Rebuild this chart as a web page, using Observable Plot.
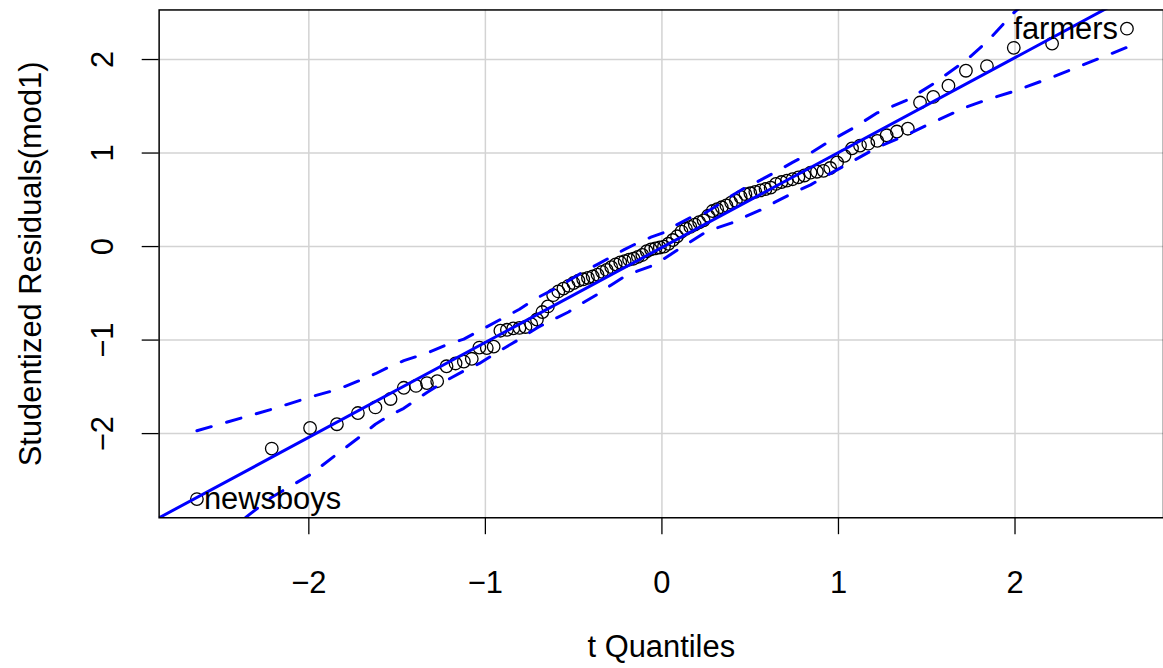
<!DOCTYPE html>
<html><head><meta charset="utf-8">
<script src="https://cdn.jsdelivr.net/npm/d3@7"></script>
<script src="https://cdn.jsdelivr.net/npm/@observablehq/plot@0.6"></script>
<style>
html,body{margin:0;padding:0;overflow:hidden;background:#fff;width:1163px;height:668px}
#chart{width:1163px;height:668px;overflow:hidden}
</style>
</head><body><div id="chart"></div>
<script>
// theoretical t quantiles (x) for the 102 ordered studentized residuals
const tQuantiles = [-2.634,-2.210,-1.993,-1.841,-1.722,-1.623,-1.537,-1.462,-1.393,-1.331,-1.273,-1.220,-1.169,-1.122,-1.077,-1.034,-0.992,-0.953,-0.915,-0.878,-0.842,-0.807,-0.773,-0.740,-0.708,-0.677,-0.646,-0.616,-0.587,-0.558,-0.529,-0.501,-0.473,-0.446,-0.419,-0.392,-0.365,-0.339,-0.313,-0.287,-0.262,-0.236,-0.211,-0.186,-0.161,-0.136,-0.111,-0.086,-0.062,-0.037,-0.012,
 0.012,0.037,0.062,0.086,0.111,0.136,0.161,0.186,0.211,0.236,0.262,0.287,0.313,0.339,0.365,0.392,0.419,0.446,0.473,0.501,0.529,0.558,0.587,0.616,0.646,0.677,0.708,0.740,0.773,0.807,0.842,0.878,0.915,0.953,0.992,1.034,1.077,1.122,1.169,1.220,1.273,1.331,1.393,1.462,1.537,1.623,1.722,1.841,1.993,2.210,2.634];
// studentized residuals (y), sorted
const residuals = [-2.70,-2.16,-1.94,-1.90,-1.78,-1.72,-1.63,-1.51,-1.49,-1.46,-1.44,-1.28,-1.25,-1.23,-1.20,-1.08,-1.085,-1.07,-0.90,-0.89,-0.875,-0.87,-0.86,-0.83,-0.78,-0.70,-0.64,-0.52,-0.48,-0.45,-0.42,-0.39,-0.365,-0.35,-0.335,-0.32,-0.30,-0.27,-0.25,-0.22,-0.19,-0.17,-0.155,-0.14,-0.13,-0.11,-0.09,-0.05,-0.03,-0.02,-0.01,
 0.00,0.03,0.07,0.11,0.16,0.19,0.21,0.235,0.26,0.28,0.33,0.38,0.40,0.42,0.44,0.47,0.49,0.53,0.56,0.57,0.585,0.60,0.615,0.63,0.67,0.69,0.705,0.72,0.74,0.76,0.79,0.80,0.81,0.84,0.90,0.97,1.05,1.08,1.10,1.13,1.19,1.23,1.26,1.54,1.60,1.72,1.88,1.93,2.125,2.17,2.33];
// labelled observations
const labelNames = ["newsboys", "farmers"];
const labelX = [-2.634, 2.634];
const labelY = [-2.70, 2.33];
// simulated confidence envelope
const envX = [-2.634,-2.210,-1.993,-1.841,-1.722,-1.623,-1.537,-1.462,-1.331,-1.220,-1.122,-1.034,-0.915,-0.807,-0.708,-0.616,-0.529,-0.446,-0.365,-0.287,-0.211,-0.136,-0.062,0.012,0.086,0.161,0.236,0.313,0.392,0.473,0.558,0.646,0.740,0.842,0.953,1.077,1.220,1.393,1.537,1.722,1.841,1.993,2.210,2.634];
const envUpper = [-1.97,-1.74,-1.61,-1.53,-1.44,-1.36,-1.28,-1.22,-1.14,-1.05,-0.99,-0.90,-0.78,-0.67,-0.55,-0.46,-0.365,-0.27,-0.19,-0.11,-0.03,0.04,0.10,0.15,0.235,0.31,0.35,0.44,0.54,0.63,0.71,0.80,0.90,1.00,1.13,1.26,1.43,1.57,1.74,1.99,2.19,2.50,2.85,3.30];
const envLower = [-3.30,-2.68,-2.44,-2.22,-2.05,-1.90,-1.80,-1.73,-1.56,-1.43,-1.33,-1.25,-1.11,-0.99,-0.87,-0.78,-0.70,-0.60,-0.51,-0.41,-0.32,-0.26,-0.21,-0.13,-0.04,0.05,0.14,0.20,0.25,0.32,0.39,0.48,0.57,0.66,0.78,0.91,1.06,1.20,1.33,1.49,1.57,1.66,1.81,2.13];
// reference line
const refX = [-2.848, 2.841];
const refY = [-2.90, 2.874];
// ticks
const xTicks = [-2, -1, 0, 1, 2];
const yTicks = [-2, -1, 0, 1, 2];
const xDomain = [-2.848, 2.841];
const yDomain = [-2.90, 2.53];

const points = tQuantiles.map((x, i) => ({x, y: residuals[i]}));
const env = envX.map((x, i) => ({x, upper: envUpper[i], lower: envLower[i]}));
const ref = refX.map((x, i) => ({x, y: refY[i]}));
const labels = labelNames.map((name, i) => ({name, x: labelX[i], y: labelY[i]}));

const blue = "#0000FF";
const fs = 31;
const fmt = d => (d < 0 ? "\u2212" + Math.abs(d) : String(d));

const chart = Plot.plot({
  width: 1168,
  height: 668,
  marginLeft: 159.3,
  marginRight: 0,
  marginTop: 9.5,
  marginBottom: 148.5,
  x: {domain: xDomain},
  y: {domain: yDomain},
  style: {fontFamily: "'Liberation Sans', Arial, sans-serif", fontSize: fs + "px", background: "white", color: "black"},
  marks: [
    Plot.gridX(xTicks, {stroke: "#d3d3d3", strokeOpacity: 1, strokeWidth: 1.5}),
    Plot.gridY(yTicks, {stroke: "#d3d3d3", strokeOpacity: 1, strokeWidth: 1.5}),
    Plot.dot(points, {x: "x", y: "y", r: 6.3, stroke: "black", strokeWidth: 1.3, fill: "none"}),
    Plot.line(env, {x: "x", y: "upper", stroke: blue, strokeWidth: 3, strokeDasharray: "15,16", clip: true}),
    Plot.line(env, {x: "x", y: "lower", stroke: blue, strokeWidth: 3, strokeDasharray: "15,16", clip: true}),
    Plot.line(ref, {x: "x", y: "y", stroke: blue, strokeWidth: 3, clip: true}),
    Plot.text(labels.slice(0, 1), {x: "x", y: "y", text: "name", textAnchor: "start", dx: 7, fontSize: fs}),
    Plot.text(labels.slice(1), {x: "x", y: "y", text: "name", textAnchor: "end", dx: -9, fontSize: fs}),
    Plot.frame({stroke: "black", strokeWidth: 1.5}),
    Plot.axisX(xTicks, {anchor: "bottom", tickSize: 17, tickPadding: 37, tickFormat: fmt, fontSize: fs, strokeWidth: 1.3, label: null}),
    Plot.axisY(yTicks, {anchor: "left", tickSize: 17, tickPadding: 29, tickRotate: -90, tickFormat: fmt, fontSize: fs, strokeWidth: 1.3, label: null}),
    Plot.text(["t Quantiles"], {frameAnchor: "bottom", dy: 130, lineAnchor: "middle", textAnchor: "middle", fontSize: fs}),
    Plot.text(["Studentized Residuals(mod1)"], {frameAnchor: "left", dx: -129, rotate: -90, textAnchor: "middle", lineAnchor: "middle", fontSize: fs})
  ]
});
document.getElementById("chart").appendChild(chart);
</script>
</body></html>
